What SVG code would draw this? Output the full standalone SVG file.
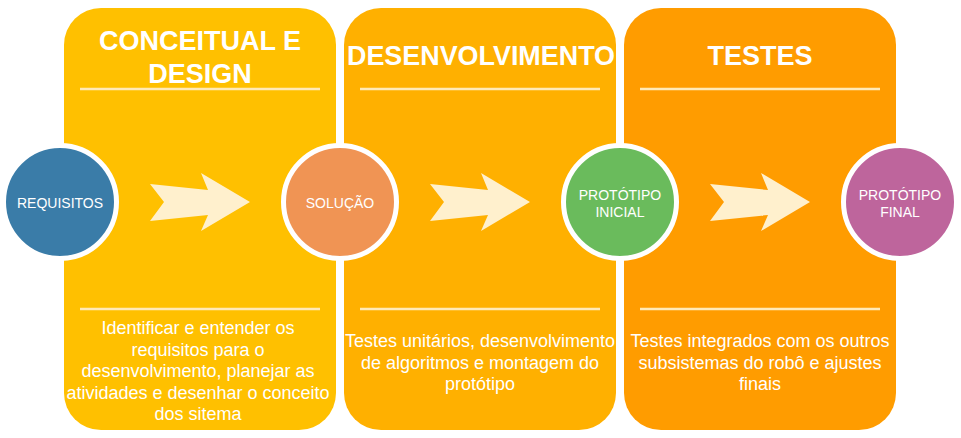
<svg xmlns="http://www.w3.org/2000/svg" width="961" height="438" viewBox="0 0 961 438">
<style>
.title{font-family:"Liberation Sans",Arial,sans-serif;font-weight:bold;font-size:27px;fill:#fff;text-anchor:middle}
.desc{font-family:"Liberation Sans",Arial,sans-serif;font-size:18px;fill:#fff;text-anchor:middle}
.clabel{font-family:"Liberation Sans",Arial,sans-serif;font-size:14px;fill:#fff;text-anchor:middle}
.sep{stroke:#FFE9B8;stroke-width:2.5}
.arrow{fill:#FFF0CD}
.circ{stroke:#fff;stroke-width:5}
</style>
<defs>
<path id="arr" d="M0,-18 L58,-12 L51,-29 L100,0 L51,29 L58,13 L0,19 L14,0 Z"/>
</defs>
<rect width="961" height="438" fill="#fff"/>
<g id="panel-conceitual">
<rect x="64" y="8" width="272" height="422" rx="37" fill="#FFC000"/>
<text class="title" x="200" y="50">CONCEITUAL E</text>
<text class="title" x="200" y="83">DESIGN</text>
<line class="sep" x1="80" y1="89" x2="320" y2="89"/>
<line class="sep" x1="80" y1="309" x2="320" y2="309"/>
<text class="desc" x="198" y="334">Identificar e entender os</text>
<text class="desc" x="198" y="356">requisitos para o</text>
<text class="desc" x="198" y="377">desenvolvimento, planejar as</text>
<text class="desc" x="198" y="399">atividades e desenhar o conceito</text>
<text class="desc" x="198" y="420">dos sitema</text>
</g>
<g id="panel-desenvolvimento">
<rect x="344" y="8" width="272" height="422" rx="37" fill="#FFB000"/>
<text class="title" x="481" y="65" textLength="268" lengthAdjust="spacingAndGlyphs">DESENVOLVIMENTO</text>
<line class="sep" x1="360" y1="89" x2="600" y2="89"/>
<line class="sep" x1="360" y1="309" x2="600" y2="309"/>
<text class="desc" x="480" y="347">Testes unitários, desenvolvimento</text>
<text class="desc" x="480" y="369">de algoritmos e montagem do</text>
<text class="desc" x="480" y="390">protótipo</text>
</g>
<g id="panel-testes">
<rect x="624" y="8" width="272" height="422" rx="37" fill="#FF9C00"/>
<text class="title" x="760" y="65">TESTES</text>
<line class="sep" x1="640" y1="89" x2="880" y2="89"/>
<line class="sep" x1="640" y1="309" x2="880" y2="309"/>
<text class="desc" x="760" y="347">Testes integrados com os outros</text>
<text class="desc" x="760" y="369">subsistemas do robô e ajustes</text>
<text class="desc" x="760" y="390">finais</text>
</g>
<g id="connectors">
<use href="#arr" class="arrow" x="150" y="202"/>
<use href="#arr" class="arrow" x="430" y="202"/>
<use href="#arr" class="arrow" x="710" y="202"/>
</g>
<g id="node-requisitos">
<circle class="circ" cx="60" cy="202" r="56.5" fill="#3A7CA8"/>
<text class="clabel" x="60" y="208">REQUISITOS</text>
</g>
<g id="node-solucao">
<circle class="circ" cx="340" cy="202" r="56.5" fill="#F09454"/>
<text class="clabel" x="340" y="208">SOLUÇÃO</text>
</g>
<g id="node-prototipo-inicial">
<circle class="circ" cx="620" cy="202" r="56.5" fill="#6ABB5C"/>
<text class="clabel" x="620" y="200">PROTÓTIPO</text>
<text class="clabel" x="620" y="217">INICIAL</text>
</g>
<g id="node-prototipo-final">
<circle class="circ" cx="900" cy="202" r="56.5" fill="#BE659C"/>
<text class="clabel" x="900" y="200">PROTÓTIPO</text>
<text class="clabel" x="900" y="217">FINAL</text>
</g>
</svg>
